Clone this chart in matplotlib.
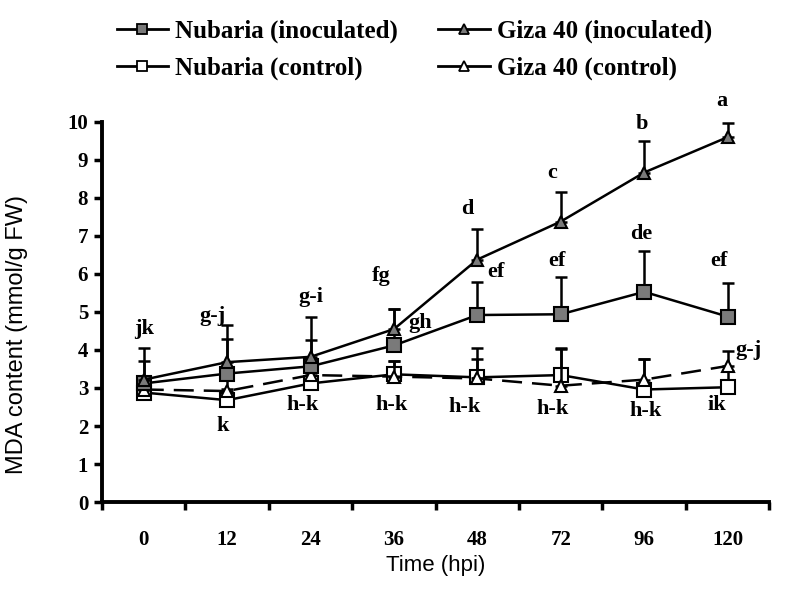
"""
MDA content over time - Nubaria vs Giza 40
"""
import numpy as np
import matplotlib
matplotlib.use('Agg')
import matplotlib.pyplot as plt
from matplotlib.lines import Line2D

# ==================== data ====================
times = ['0', '12', '24', '36', '48', '72', '96', '120']

nub_inoc = [3.12, 3.38, 3.57, 4.12, 4.92, 4.94, 5.53, 4.88]
nub_inoc_err = [0.92, 0.92, 0.68, 0.95, 0.88, 0.98, 1.08, 0.88]

giza_inoc = [3.22, 3.68, 3.82, 4.55, 6.38, 7.38, 8.67, 9.60]
giza_inoc_err = [0.48, 0.98, 1.06, 0.52, 0.80, 0.77, 0.82, 0.36]

nub_ctrl = [2.88, 2.68, 3.12, 3.36, 3.28, 3.34, 2.96, 3.02]
nub_ctrl_err = [0.30, 0.30, 0.30, 0.36, 0.76, 0.70, 0.80, 0.44]

giza_ctrl = [2.96, 2.92, 3.34, 3.30, 3.25, 3.06, 3.22, 3.58]
giza_ctrl_err = [0.30, 0.30, 0.30, 0.42, 0.50, 0.97, 0.54, 0.40]

# significance letters: (time index, text, y position)
letters_idx = [0, 1, 1, 2, 2, 3, 3, 3, 4, 4, 4, 5, 5, 5, 6, 6, 6, 7, 7, 7, 7]
letters_txt = ['jk', 'g-j', 'k', 'g-i', 'h-k', 'fg', 'h-k', 'gh', 'd', 'ef', 'h-k',
               'c', 'ef', 'h-k', 'b', 'de', 'h-k', 'a', 'ef', 'g-j', 'ik']
letters_y = [4.55, 4.9, 2.0, 5.4, 2.55, 5.95, 2.55, 4.7, 7.7, 6.05, 2.5,
             8.65, 6.35, 2.45, 9.95, 7.05, 2.4, 10.55, 6.35, 4.0, 2.55]
letters_dx = [0.0, -0.18, -0.05, 0.0, -0.1, -0.15, -0.03, 0.32, -0.12, 0.22, -0.15,
              -0.1, -0.05, -0.1, -0.03, -0.03, 0.02, -0.07, -0.1, 0.25, -0.13]

x = np.arange(len(times))

serif = 'Liberation Serif'
sans = 'Liberation Sans'

fig = plt.figure(figsize=(7.85, 5.92), dpi=100)
ax = fig.add_axes([0.130, 0.152, 0.850, 0.642])


def draw(vals, err, marker, face, ls, z):
    ax.errorbar(x, vals, yerr=[np.zeros(len(err)), err], fmt='none',
                ecolor='black', elinewidth=1.8, capsize=4.5, capthick=1.8, zorder=z)
    ax.plot(x, vals, linestyle=ls, color='black', linewidth=1.8,
            marker=marker, markersize=10 if marker == 's' else 9,
            markerfacecolor=face, markeredgecolor='black', markeredgewidth=1.5,
            zorder=z + 1, dashes=(8, 4) if ls == '--' else (None, None))


draw(nub_ctrl, nub_ctrl_err, 's', 'white', '-', 2)
draw(giza_ctrl, giza_ctrl_err, '^', 'white', '--', 4)
draw(nub_inoc, nub_inoc_err, 's', '#7a7a7a', '-', 6)
draw(giza_inoc, giza_inoc_err, '^', '#7a7a7a', '-', 8)

for i, t, yv, dx in zip(letters_idx, letters_txt, letters_y, letters_dx):
    ax.text(x[i] + dx, yv, t, ha='center', va='center', fontsize=16,
            fontweight='bold', family=serif, zorder=10)

ax.set_xlim(-0.5, len(times) - 0.5)
ax.set_ylim(0, 10)
ax.set_yticks(range(0, 11))
ax.set_xticks(x)
ax.set_xticklabels(times)
ax.set_xticks(np.arange(-0.5, len(times)), minor=True)
ax.tick_params(axis='x', which='major', length=0, pad=20)
ax.tick_params(axis='x', which='minor', length=6, width=2.5, direction='out')
ax.tick_params(axis='y', length=6, width=2.5, direction='out', pad=4)
for lab in ax.get_xticklabels() + ax.get_yticklabels():
    lab.set_family(serif)
    lab.set_fontweight('bold')
    lab.set_fontsize(15)

for s in ['top', 'right']:
    ax.spines[s].set_visible(False)
for s in ['left', 'bottom']:
    ax.spines[s].set_linewidth(2.8)

ax.set_xlabel('Time (hpi)', family=sans, fontsize=16, labelpad=4)
ax.set_ylabel('MDA content (mmol/g FW)', family=sans, fontsize=17)
ax.yaxis.set_label_coords(-0.111, 0.44)

handles = [
    Line2D([], [], color='black', lw=2, marker='s', ms=7, mfc='#7a7a7a', mec='black', mew=1.3),
    Line2D([], [], color='black', lw=2, marker='s', ms=7, mfc='white', mec='black', mew=1.3),
    Line2D([], [], color='black', lw=2, marker='^', ms=7, mfc='#7a7a7a', mec='black', mew=1.3),
    Line2D([], [], color='black', lw=2, marker='^', ms=7, mfc='white', mec='black', mew=1.3),
]
labels = ['Nubaria (inoculated)', 'Nubaria (control)',
          'Giza 40 (inoculated)', 'Giza 40 (control)']
fig.legend(handles, labels, ncol=2, frameon=False, loc='upper left',
           bbox_to_anchor=(0.12, 1.005), handlelength=2.05, handletextpad=0.3,
           columnspacing=1.6, labelspacing=0.55,
           prop={'family': serif, 'weight': 'bold', 'size': 18})

plt.savefig('out.png', dpi=100)
